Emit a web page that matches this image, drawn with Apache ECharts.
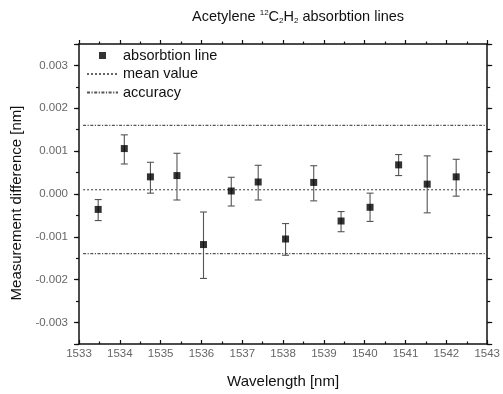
<!DOCTYPE html>
<html>
<head>
<meta charset="utf-8">
<script src="https://cdn.jsdelivr.net/npm/echarts@6/dist/echarts.min.js"></script>
<style>html,body{margin:0;padding:0;background:#fff}#c{width:503px;height:394px}</style>
</head>
<body>
<div id="c"></div>
<script>
// Wavelength of each absorption line [nm]
const wavelength = [1533.47, 1534.11, 1534.75, 1535.40, 1536.05, 1536.73, 1537.39, 1538.06, 1538.75, 1539.42, 1540.13, 1540.83, 1541.53, 1542.24];
// Measurement difference [nm]
const difference = [-0.00036, 0.00106, 0.00040, 0.00043, -0.00118, 0.00007, 0.00028, -0.00105, 0.00027, -0.00063, -0.00031, 0.00068, 0.00023, 0.00040];
// Error bar ends [nm]
const errUpper = [-0.00013, 0.00138, 0.00074, 0.00095, -0.00042, 0.00039, 0.00067, -0.00069, 0.00066, -0.00041, 0.00002, 0.00092, 0.00089, 0.00081];
const errLower = [-0.00062, 0.00070, 0.00002, -0.00014, -0.00197, -0.00028, -0.00014, -0.00143, -0.00016, -0.00088, -0.00064, 0.00043, -0.00044, -0.00005];
// Reference lines [nm]
const meanValue = 0.0001;
const accuracyUpper = 0.0016;
const accuracyLower = -0.00139;
const lineStart = 1533.1, lineEnd = 1543;
// Axes
const xMin = 1533, xMax = 1543;
const yMin = -0.0035, yMax = 0.0035;

const chart = echarts.init(document.getElementById('c'), null, {renderer: 'canvas'});
const FONT = 'Liberation Sans, Arial, sans-serif';
const axisLine = {show: true, onZero: false, lineStyle: {color: '#111', width: 1.5}};
const yFmt = v => (Math.abs(Math.round(v * 10000)) % 10 === 0 ? v.toFixed(3) : '');
const tickStyle = {color: '#111', width: 1.2};
const meanStyle = {color: '#666', width: 1.3, type: [2, 2]};
const accStyle = {color: '#555', width: 1.3, type: [3, 1.5, 1.2, 1.5]};

const xCommon = {
  type: 'value', min: xMin, max: xMax, interval: 1,
  splitLine: {show: false},
  axisLine: axisLine,
  minorSplitLine: {show: false}
};
const yMajor = {
  type: 'value', min: yMin, max: yMax, splitNumber: 7,
  splitLine: {show: false},
  axisLine: axisLine,
  axisTick: {show: true, inside: false, length: 5, lineStyle: tickStyle}
};
const yMinor = {
  type: 'value', min: yMin, max: yMax, interval: 0.0005,
  splitLine: {show: false},
  axisLine: {show: false, onZero: false},
  axisLabel: {show: false},
  axisTick: {show: true, inside: false, length: 3, lineStyle: tickStyle}
};

const errData = wavelength.map((w, i) => [w, errLower[i], errUpper[i]]);
const ptData = wavelength.map((w, i) => [w, difference[i]]);

chart.setOption({
  animation: false,
  textStyle: {fontFamily: FONT},
  title: {
    text: '{n|Acetylene }{sup|12}{n|C}{sub|2}{n|H}{sub|2}{n| absorbtion lines}',
    left: 187, top: 4,
    textStyle: {
      fontWeight: 'normal',
      rich: {
        n: {fontFamily: FONT, fontSize: 14.5, fontWeight: 'normal', color: '#111'},
        sup: {fontFamily: FONT, fontSize: 8, fontWeight: 'normal', color: '#111', padding: [0, 0, 8, 0]},
        sub: {fontFamily: FONT, fontSize: 8, fontWeight: 'normal', color: '#111', padding: [8, 0, 0, 0]}
      }
    }
  },
  legend: {
    orient: 'vertical', left: 86, top: 48, padding: 0,
    itemWidth: 31, itemHeight: 7, itemGap: 3.5,
    textStyle: {fontFamily: FONT, fontSize: 14.5, color: '#111'},
    symbolKeepAspect: true,
    data: [
      {name: 'absorbtion line', icon: 'path://M0,0L1,0L1,1L0,1Z'},
      {name: 'mean value', itemStyle: {opacity: 0}},
      {name: 'accuracy', itemStyle: {opacity: 0}}
    ]
  },
  grid: {left: 79, right: 15, top: 44, bottom: 50, containLabel: false},
  xAxis: [
    Object.assign({}, xCommon, {
      position: 'bottom',
      name: 'Wavelength [nm]', nameLocation: 'middle', nameGap: 30,
      nameTextStyle: {fontFamily: FONT, fontSize: 15, color: '#111'},
      axisTick: {show: true, inside: true, length: 4, lineStyle: tickStyle},
      minorTick: {show: true, splitNumber: 2, length: 2.5, lineStyle: tickStyle},
      axisLabel: {show: true, margin: 4, fontFamily: FONT, fontSize: 11.5, color: '#666', formatter: v => String(v)}
    }),
    Object.assign({}, xCommon, {
      position: 'top',
      axisTick: {show: true, inside: false, length: 4, lineStyle: tickStyle},
      minorTick: {show: true, splitNumber: 2, length: 2.5, lineStyle: tickStyle},
      axisLabel: {show: false}
    })
  ],
  yAxis: [
    Object.assign({}, yMajor, {
      position: 'left',
      name: 'Measurement difference [nm]', nameLocation: 'middle', nameGap: 46,
      nameTextStyle: {fontFamily: FONT, fontSize: 15, color: '#111', padding: [0, 18, 0, 0]},
      axisLabel: {show: true, margin: 11, fontFamily: FONT, fontSize: 11.5, color: '#666', formatter: yFmt}
    }),
    Object.assign({}, yMinor, {position: 'left'}),
    Object.assign({}, yMajor, {position: 'right', axisLabel: {show: false}}),
    Object.assign({}, yMinor, {position: 'right'})
  ],
  series: [
    {
      name: 'mean value', type: 'line', xAxisIndex: 0, yAxisIndex: 0,
      data: [[lineStart, meanValue], [lineEnd, meanValue]],
      symbol: 'none', silent: true,
      lineStyle: meanStyle, itemStyle: {color: meanStyle.color}
    },
    {
      name: 'accuracy', type: 'line', xAxisIndex: 0, yAxisIndex: 0,
      data: [[lineStart, accuracyUpper], [lineEnd, accuracyUpper]],
      symbol: 'none', silent: true,
      lineStyle: accStyle, itemStyle: {color: accStyle.color}
    },
    {
      name: 'accuracy', type: 'line', xAxisIndex: 0, yAxisIndex: 0,
      data: [[lineStart, accuracyLower], [lineEnd, accuracyLower]],
      symbol: 'none', silent: true,
      lineStyle: accStyle, itemStyle: {color: accStyle.color}
    },
    {
      name: 'error', type: 'custom', xAxisIndex: 0, yAxisIndex: 0,
      data: errData,
      renderItem: function (params, api) {
        const x = api.value(0);
        const top = api.coord([x, api.value(2)]);
        const bot = api.coord([x, api.value(1)]);
        const w = 3.5;
        const st = {stroke: '#555', lineWidth: 1.1};
        return {
          type: 'group',
          children: [
            {type: 'line', shape: {x1: top[0], y1: top[1], x2: bot[0], y2: bot[1]}, style: st},
            {type: 'line', shape: {x1: top[0] - w, y1: top[1], x2: top[0] + w, y2: top[1]}, style: st},
            {type: 'line', shape: {x1: bot[0] - w, y1: bot[1], x2: bot[0] + w, y2: bot[1]}, style: st}
          ]
        };
      },
      z: 3
    },
    {
      name: 'absorbtion line', type: 'scatter', xAxisIndex: 0, yAxisIndex: 0,
      data: ptData, symbol: 'rect', symbolSize: 7,
      itemStyle: {color: '#000'}, z: 4
    }
  ]
});
</script>
</body>
</html>
